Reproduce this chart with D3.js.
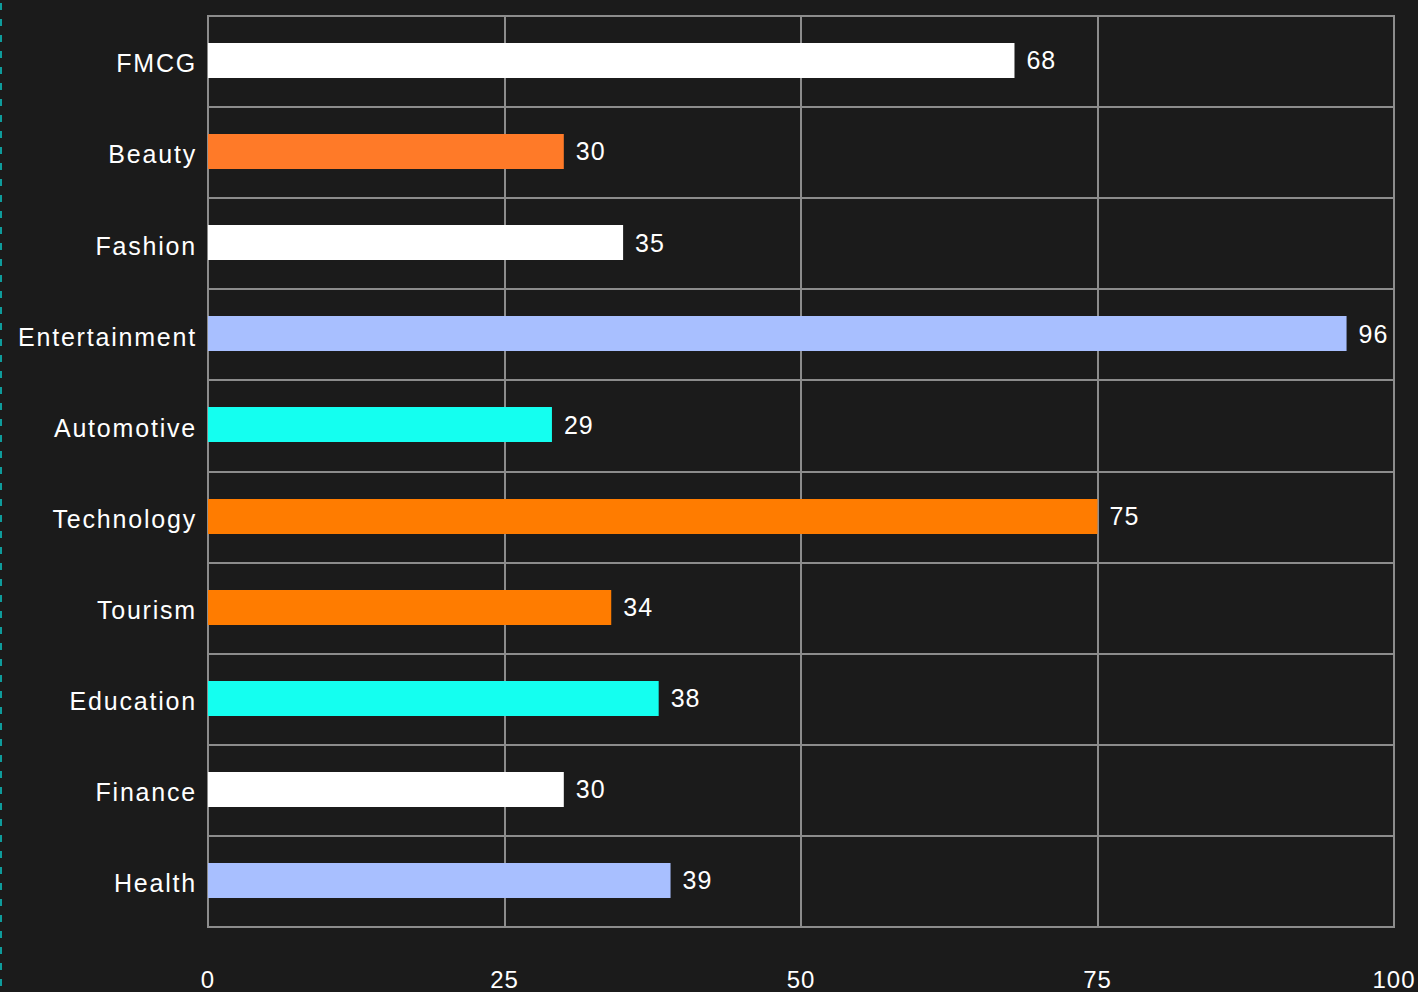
<!DOCTYPE html>
<html>
<head>
<meta charset="utf-8">
<script src="https://cdn.jsdelivr.net/npm/d3@7"></script>
<style>
  html, body { margin: 0; padding: 0; background: #1b1b1b; }
  svg { display: block; }
  text { font-family: "Liberation Sans", Arial, sans-serif; fill: #ffffff; }
</style>
</head>
<body>
<svg id="chart" width="1418" height="992"></svg>
<script>
// Sector categories, values and bar colours
const categories = ["FMCG", "Beauty", "Fashion", "Entertainment", "Automotive",
                    "Technology", "Tourism", "Education", "Finance", "Health"];
const values = [68, 30, 35, 96, 29, 75, 34, 38, 30, 39];
const colors = ["#ffffff", "#ff7a28", "#ffffff", "#a8bfff", "#14fff0",
                "#ff7c00", "#ff7c00", "#14fff0", "#ffffff", "#a8bfff"];
const xTicks = [0, 25, 50, 75, 100];

(function () {
  const svg = d3.select("#chart");
  const W = 1418, H = 992;
  const m = { left: 208, right: 1394, top: 16, bottom: 927 };

  svg.append("rect").attr("width", W).attr("height", H).attr("fill", "#1b1b1b");

  // dashed accent rule on the left edge
  svg.append("line")
    .attr("x1", 1).attr("x2", 1).attr("y1", 0).attr("y2", H)
    .attr("stroke", "#0e9c9c").attr("stroke-width", 2)
    .attr("stroke-dasharray", "7 9").attr("stroke-dashoffset", -3);

  const x = d3.scaleLinear().domain([0, 100]).range([m.left, m.right]);
  const y = d3.scaleBand().domain(categories).range([m.top, m.bottom]).padding(0);

  const grid = svg.append("g");
  // horizontal band separators, snapped to whole pixels
  const bounds = categories.map(c => y(c)).concat([m.bottom]);
  grid.selectAll("line.h").data(bounds).join("line")
    .attr("class", "h")
    .attr("x1", m.left - 1).attr("x2", m.right + 1)
    .attr("y1", d => Math.round(d)).attr("y2", d => Math.round(d))
    .attr("stroke", "#8c8c8c").attr("stroke-width", 2);
  // vertical gridlines at ticks
  grid.selectAll("line.v").data(xTicks).join("line")
    .attr("class", "v")
    .attr("x1", d => Math.round(x(d))).attr("x2", d => Math.round(x(d)))
    .attr("y1", m.top - 1).attr("y2", m.bottom + 1)
    .attr("stroke", "#8c8c8c").attr("stroke-width", 2);

  // bars
  const barH = 35;
  const data = categories.map((c, i) => ({ c, v: values[i], col: colors[i] }));
  svg.append("g").selectAll("rect").data(data).join("rect")
    .attr("x", x(0))
    .attr("y", d => Math.round(y(d.c) + y.bandwidth() / 2 - barH / 2 - 1))
    .attr("width", d => x(d.v) - x(0))
    .attr("height", barH)
    .attr("fill", d => d.col);

  // value labels
  svg.append("g").selectAll("text").data(data).join("text")
    .attr("x", d => x(d.v) + 12)
    .attr("y", d => y(d.c) + y.bandwidth() / 2 - 1)
    .attr("dy", "0.35em")
    .attr("font-size", 25)
    .attr("letter-spacing", 1)
    .text(d => d.v);

  // category labels
  svg.append("g").selectAll("text").data(data).join("text")
    .attr("x", m.left - 11)
    .attr("y", d => y(d.c) + y.bandwidth() / 2 + 2)
    .attr("dy", "0.35em")
    .attr("text-anchor", "end")
    .attr("font-size", 25)
    .attr("letter-spacing", 1.8)
    .text(d => d.c);

  // x axis tick labels
  svg.append("g").selectAll("text").data(xTicks).join("text")
    .attr("x", d => x(d))
    .attr("y", 980)
    .attr("dy", "0.35em")
    .attr("text-anchor", "middle")
    .attr("font-size", 24)
    .attr("letter-spacing", 1)
    .text(d => d);
})();
</script>
</body>
</html>
